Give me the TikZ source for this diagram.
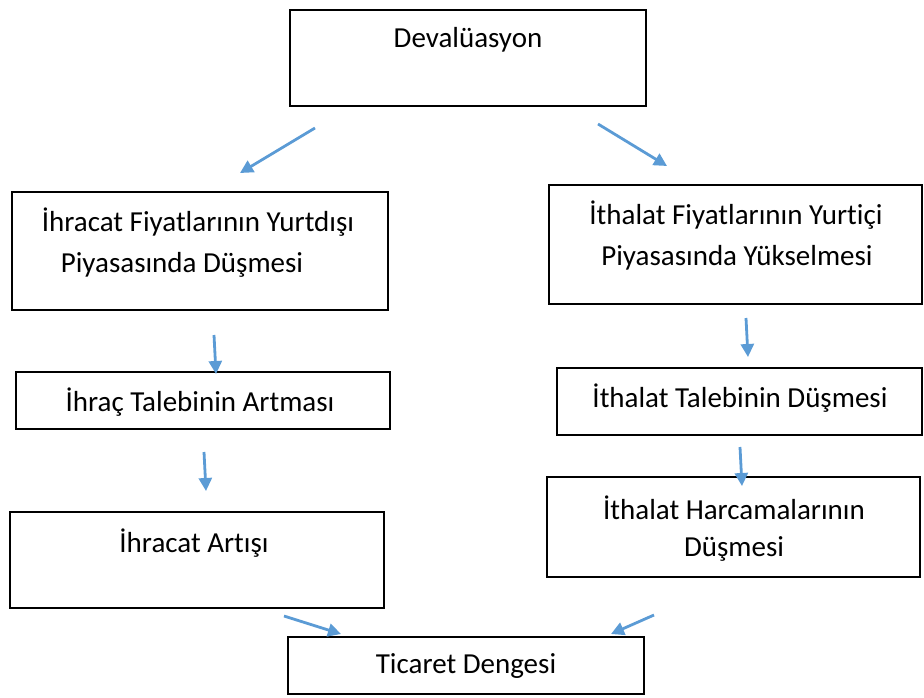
\documentclass[tikz,border=0pt]{standalone}
\usepackage{fontspec}
\setmainfont{Carlito}[RawFeature={-liga;-dlig;-clig}]
\usetikzlibrary{arrows.meta}
\definecolor{arr}{HTML}{5B9BD5}
\tikzset{
  box/.style={draw=black, line width=1.6pt, rectangle, inner sep=0pt},
  lbl/.style={font=\fontsize{29}{41}\selectfont, align=center, inner sep=0pt},
  flow/.style={draw=arr, line width=2.8pt, -{Triangle[length=13pt,width=13pt]}, shorten >=0pt}
}
\begin{document}
\begin{tikzpicture}[x=1pt,y=-1pt]
\useasboundingbox (0,0) rectangle (924,697);
% boxes
\node[box, minimum width=356pt, minimum height=96pt] (dev) at (468,58) {};
\node[box, minimum width=376pt, minimum height=118pt] (l1) at (200,251) {};
\node[box, minimum width=373pt, minimum height=119pt] (r1) at (735.5,244.5) {};
\node[box, minimum width=374pt, minimum height=57pt] (l2) at (203,400.5) {};
\node[box, minimum width=365pt, minimum height=67pt] (r2) at (739.5,401.5) {};
\node[box, minimum width=374pt, minimum height=96pt] (l3) at (197,560) {};
\node[box, minimum width=373pt, minimum height=100pt] (r3) at (733.5,527) {};
\node[box, minimum width=356pt, minimum height=57pt] (tic) at (466,665.5) {};
% texts
\node[lbl] (devt) at (468,40) {Devalüasyon};
\node[lbl] (l1t) at (198,222) {İhracat Fiyatlarının Yurtdışı};
\node[lbl] (l1u) at (182,265) {Piyasasında Düşmesi};
\node[lbl] (r1t) at (736,215) {İthalat Fiyatlarının Yurtiçi};
\node[lbl] (r1u) at (737,258) {Piyasasında Yükselmesi};
\node[lbl] (l2t) at (200,402) {İhraç Talebinin Artması};
\node[lbl] (r2t) at (740,398) {İthalat Talebinin Düşmesi};
\node[lbl] (l3t) at (194,543) {İhracat Artışı};
\node[lbl] (r3t) at (734,508) {İthalat Harcamalarının};
\node[lbl] (r3u) at (734,549) {Düşmesi};
\node[lbl] (tict) at (466,666) {Ticaret Dengesi};
% arrow ends
\coordinate (a1s) at (315,128); \coordinate (a1e) at (240,173);
\coordinate (a2s) at (598,124); \coordinate (a2e) at (667,166);
\coordinate (a3s) at (214,335); \coordinate (a3e) at (216,374);
\coordinate (a4s) at (204,452); \coordinate (a4e) at (206,491);
\coordinate (a5s) at (746,318); \coordinate (a5e) at (748,357);
\coordinate (a6s) at (740,447); \coordinate (a6e) at (742,486);
\coordinate (a7s) at (284,616); \coordinate (a7e) at (341,634);
\coordinate (a8s) at (654,615); \coordinate (a8e) at (611,634);
\draw[flow] (a1s) -- (a1e);
\draw[flow] (a2s) -- (a2e);
\draw[flow] (a3s) -- (a3e);
\draw[flow] (a4s) -- (a4e);
\draw[flow] (a5s) -- (a5e);
\draw[flow] (a6s) -- (a6e);
\draw[flow] (a7s) -- (a7e);
\draw[flow] (a8s) -- (a8e);
\end{tikzpicture}
\end{document}
